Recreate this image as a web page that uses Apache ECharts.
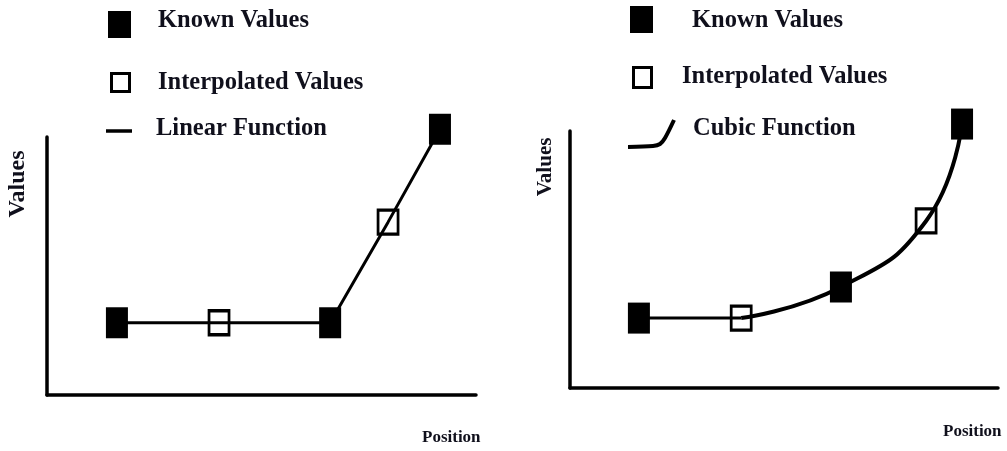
<!DOCTYPE html>
<html>
<head>
<meta charset="utf-8">
<script src="https://cdn.jsdelivr.net/npm/echarts@6/dist/echarts.min.js"></script>
<style>
html,body{margin:0;padding:0;background:#fff;}
#chart{width:1007px;height:451px;}
</style>
</head>
<body>
<div id="chart"></div>
<script>
// ---- data (position 0-100, value 0-100 along each axis) ----
var leftKnownPos = [16.3, 66.0, 91.6];
var leftKnownVal = [28, 28, 103];
var leftInterpPos = [40.1, 79.5];
var leftInterpVal = [28, 67];

var rightKnownPos = [16.1, 63.3, 91.6];
var rightKnownVal = [27.2, 39.3, 102.7];
var rightInterpPos = [40.0, 83.2];
var rightInterpVal = [27.2, 65.0];

var legendLabels = ['Known Values', 'Interpolated Values'];
var leftFunctionLabel = 'Linear Function';
var rightFunctionLabel = 'Cubic Function';
var yAxisName = 'Values';
var xAxisName = 'Position';

function pairs(px, py) { return px.map(function (x, i) { return [x, py[i]]; }); }
function merged(kp, kv, ip, iv) {
  return pairs(kp, kv).concat(pairs(ip, iv)).sort(function (a, b) { return a[0] - b[0]; });
}
var leftLine = merged(leftKnownPos, leftKnownVal, leftInterpPos, leftInterpVal);
var rightAll = merged(rightKnownPos, rightKnownVal, rightInterpPos, rightInterpVal);
var rightFlat = rightAll.slice(0, 2);
var rightCurve = rightAll.slice(1);

var INK = '#000';
var TXT = '#10101c';
var FONT = '"Liberation Serif", "Times New Roman", serif';

function axis(idx) {
  return {
    type: 'value', gridIndex: idx, min: 0, max: 100,
    axisLine: { show: true, lineStyle: { color: INK, width: 3.5 } },
    axisTick: { show: false }, axisLabel: { show: false }, splitLine: { show: false }
  };
}

var knownStyle = { type: 'scatter', symbol: 'rect', symbolSize: [22, 31], itemStyle: { color: INK, opacity: 1 }, clip: false, z: 5, silent: true };
var interpStyle = { type: 'scatter', symbol: 'rect', symbolSize: [20, 24], itemStyle: { color: 'rgba(0,0,0,0)', borderColor: INK, borderWidth: 3, opacity: 1 }, clip: false, z: 5, silent: true };

function txt(x, y, s, size, rot) {
  return { type: 'text', x: x, y: y, rotation: rot || 0, z: 10, silent: true,
    style: { text: s, fill: TXT, font: 'bold ' + size + 'px ' + FONT,
      textAlign: rot ? 'center' : 'left', textVerticalAlign: 'middle' } };
}

var chart = echarts.init(document.getElementById('chart'), null, { renderer: 'canvas' });
chart.setOption({
  backgroundColor: '#fff',
  animation: false,
  grid: [
    { left: 47, top: 137, width: 429, height: 258 },
    { left: 570, top: 131, width: 428, height: 257 }
  ],
  xAxis: [axis(0), axis(1)],
  yAxis: [axis(0), axis(1)],
  series: [
    { type: 'line', xAxisIndex: 0, yAxisIndex: 0, data: leftLine, showSymbol: false, clip: false,
      lineStyle: { color: INK, width: 3 }, silent: true, z: 2 },
    Object.assign({ xAxisIndex: 0, yAxisIndex: 0, data: pairs(leftKnownPos, leftKnownVal) }, knownStyle),
    Object.assign({ xAxisIndex: 0, yAxisIndex: 0, data: pairs(leftInterpPos, leftInterpVal) }, interpStyle),
    { type: 'line', xAxisIndex: 1, yAxisIndex: 1, data: rightFlat, showSymbol: false, clip: false,
      lineStyle: { color: INK, width: 3 }, silent: true, z: 2 },
    { type: 'line', xAxisIndex: 1, yAxisIndex: 1, data: rightCurve, showSymbol: false, clip: false, smooth: 0.5,
      lineStyle: { color: INK, width: 4 }, silent: true, z: 2 },
    Object.assign({ xAxisIndex: 1, yAxisIndex: 1, data: pairs(rightKnownPos, rightKnownVal) }, knownStyle),
    Object.assign({ xAxisIndex: 1, yAxisIndex: 1, data: pairs(rightInterpPos, rightInterpVal) }, interpStyle)
  ],
  graphic: [
    // left legend
    { type: 'rect', shape: { x: 108, y: 11, width: 23, height: 27 }, style: { fill: INK } },
    { type: 'rect', shape: { x: 111.5, y: 73.5, width: 18, height: 18 }, style: { fill: 'none', stroke: INK, lineWidth: 3 } },
    { type: 'line', shape: { x1: 106, y1: 131, x2: 132, y2: 131 }, style: { stroke: INK, lineWidth: 3.5 } },
    txt(158, 21, legendLabels[0], 24.5),
    txt(158, 83, legendLabels[1], 24.5),
    txt(156, 129, leftFunctionLabel, 24.5),
    // right legend
    { type: 'rect', shape: { x: 630, y: 6, width: 23, height: 27 }, style: { fill: INK } },
    { type: 'rect', shape: { x: 633.5, y: 67.5, width: 18, height: 20 }, style: { fill: 'none', stroke: INK, lineWidth: 3 } },
    { type: 'polyline', shape: { points: [[628, 147], [653, 146], [660, 144], [665, 138], [674, 120]], smooth: 0.3 },
      style: { stroke: INK, lineWidth: 4, fill: 'none' } },
    txt(692, 21, legendLabels[0], 24.5),
    txt(682, 77, legendLabels[1], 24.5),
    txt(693, 129, rightFunctionLabel, 24.5),
    // axis names
    txt(18, 184, yAxisName, 24, Math.PI / 2),
    txt(546, 167, yAxisName, 21, Math.PI / 2),
    txt(422, 438, xAxisName, 17),
    txt(943, 432, xAxisName, 17)
  ]
});
</script>
</body>
</html>
